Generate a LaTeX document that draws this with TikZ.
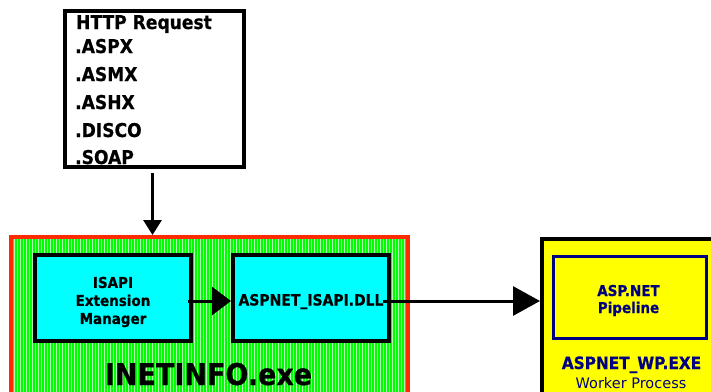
\documentclass[tikz,border=0pt]{standalone}
\usepackage{fontspec}
\newfontfamily\vf{DejaVu Sans}[FakeStretch=0.9, BoldFeatures={FakeBold=0.6}]
\newfontfamily\vr{DejaVu Sans}
\usetikzlibrary{arrows.meta}
\definecolor{inetgreen}{HTML}{00FF00}
\definecolor{gridgreen}{HTML}{B0FFB0}
\definecolor{inetred}{HTML}{FF2A00}
\definecolor{boxcyan}{HTML}{00FFFF}
\definecolor{wpyellow}{HTML}{FFFF00}
\definecolor{navyblue}{HTML}{000080}
\begin{document}
\begin{tikzpicture}[x=1pt,y=-1pt,
  blackbox/.style={draw=black, line width=4pt, inner sep=0pt},
  cyanbox/.style={blackbox, fill=boxcyan, minimum width=156pt, minimum height=86pt},
  lbl/.style={inner sep=0pt, anchor=base},
  httptext/.style={inner sep=0pt, anchor=base west, font=\vf\bfseries\fontsize{19}{22}\selectfont},
  boxtext/.style={inner sep=0pt, font=\vf\bfseries\fontsize{15}{18}\selectfont, align=center},
  conn/.style={draw=black, line width=3pt}]
\useasboundingbox (0,0) rectangle (711,391);
\clip (0,0) rectangle (711,391);

% HTTP request box
\node[blackbox, fill=white, minimum width=179pt, minimum height=156pt] (http) at (154.5,89) {};
\node[httptext] (t0) at (76,29) {HTTP Request};
\node[httptext] (t1) at (75,53) {.ASPX};
\node[httptext] (t2) at (75,81) {.ASMX};
\node[httptext] (t3) at (75,109) {.ASHX};
\node[httptext] (t4) at (75,137) {.DISCO};
\node[httptext] (t5) at (75,164) {.SOAP};

% INETINFO process
\node[fill=inetgreen, draw=inetred, line width=4pt, inner sep=0pt,
      minimum width=396.5pt, minimum height=183pt,
      path picture={\draw[gridgreen, line width=0.6pt, step=3]
        (path picture bounding box.south west) grid (path picture bounding box.north east);}]
      (inet) at (209.25,328.5) {};
\node[cyanbox] (isapi) at (113,298) {};
\node[boxtext] (isapilbl) at (113,302) {ISAPI\\Extension\\Manager};
\node[cyanbox] (dll) at (311,298) {};
\node[lbl, font=\vf\bfseries\fontsize{15.5}{18}\selectfont] (dlllbl) at (311,305.5) {ASPNET\_ISAPI.DLL};
\node[lbl, font=\vf\bfseries\fontsize{30}{36}\selectfont] (inetlbl) at (208.5,385) {INETINFO.exe};

% Worker process
\node[blackbox, fill=wpyellow, minimum width=178pt, minimum height=181pt] (wp) at (631,329.5) {};
\node[draw=navyblue, line width=3pt, inner sep=0pt, minimum width=153pt, minimum height=82pt] (pipe) at (630,297.5) {};
\node[lbl, text=navyblue, font=\vf\bfseries\fontsize{15}{18}\selectfont] (pipelbl1) at (628.5,296) {ASP.NET};
\node[lbl, text=navyblue, font=\vf\bfseries\fontsize{15}{18}\selectfont] (pipelbl2) at (628.5,313) {Pipeline};
\node[lbl, text=navyblue, font=\vf\bfseries\fontsize{17}{20}\selectfont] (wplbl) at (631.5,369) {ASPNET\_WP.EXE};
\node[lbl, text=navyblue, font=\vr\fontsize{14.5}{17}\selectfont] (wpsub) at (631,388.3) {Worker Process};

% connectors
\path ([xshift=-2pt,yshift=-4pt]http.south) coordinate (httpout);
\path ([yshift=-3pt]dll.east) coordinate (dllmid);
\draw[conn, -{Triangle[length=15pt,width=18pt]}] (httpout) -- (httpout |- inet.north);
\draw[conn, -{Triangle[length=19pt,width=28pt]}] ([xshift=-5pt,yshift=-3pt]isapi.east) -- ([yshift=-3pt]dll.west);
\draw[conn, -{Triangle[length=27pt,width=29pt]}] ([xshift=-8pt]dllmid) -- (dllmid -| wp.west);
\end{tikzpicture}
\end{document}
